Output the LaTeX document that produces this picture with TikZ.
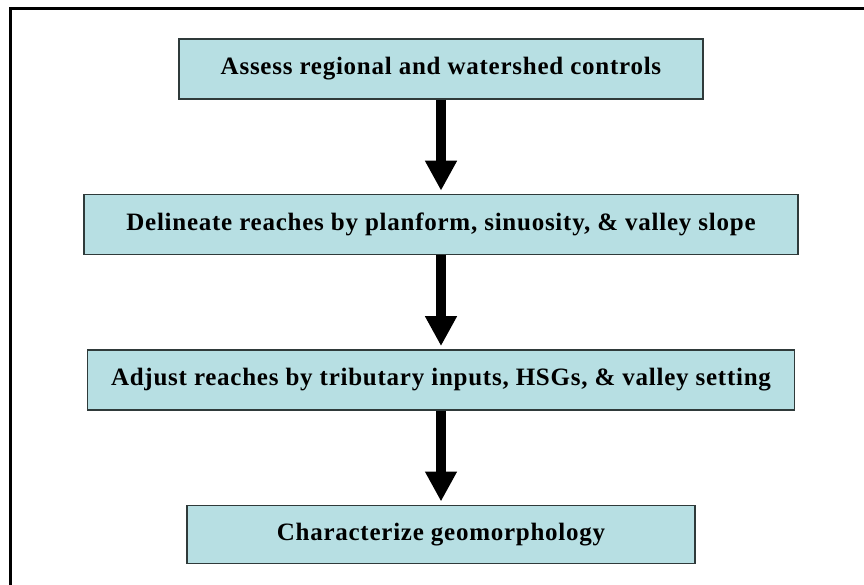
\documentclass[tikz,border=0pt]{standalone}
\usepackage{fontspec}
\setmainfont{Liberation Serif}
\newfontfamily\boxfont[LetterSpace=3]{Liberation Serif}
\usepackage{xcolor}
\usetikzlibrary{arrows.meta,positioning}
\definecolor{stepfill}{HTML}{B7DFE3}
\definecolor{stepedge}{HTML}{2F3A3A}

\begin{document}
\begin{tikzpicture}[
    x=1pt, y=-1pt,
    node distance=94pt,
    stage/.style={
        rectangle,
        draw=stepedge,
        line width=1.4pt,
        fill=stepfill,
        align=center,
        minimum height=60pt,
        font=\boxfont\fontsize{25}{29}\selectfont\bfseries
    },
    arrow/.style={-{Triangle[length=30pt,width=30pt]}, line width=10pt, shorten >=3pt}
]
    \clip (0,0) rectangle (864,584);
    \draw[line width=3pt] (10,8) rectangle (900,620);

    \node[stage, minimum width=524pt] (assess) at (441,69)
        {Assess regional and watershed controls};
    \node[stage, minimum width=714pt, below=of assess] (delineate)
        {Delineate reaches by planform, sinuosity, \& valley slope};
    \node[stage, minimum width=707pt, below=of delineate] (adjust)
        {Adjust reaches by tributary inputs, HSGs, \& valley setting};
    \node[stage, minimum width=508pt, minimum height=58pt, below=of adjust] (geomorph)
        {Characterize geomorphology};

    \draw[arrow] (assess) -- (delineate);
    \draw[arrow] (delineate) -- (adjust);
    \draw[arrow] (adjust) -- (geomorph);
\end{tikzpicture}
\end{document}
